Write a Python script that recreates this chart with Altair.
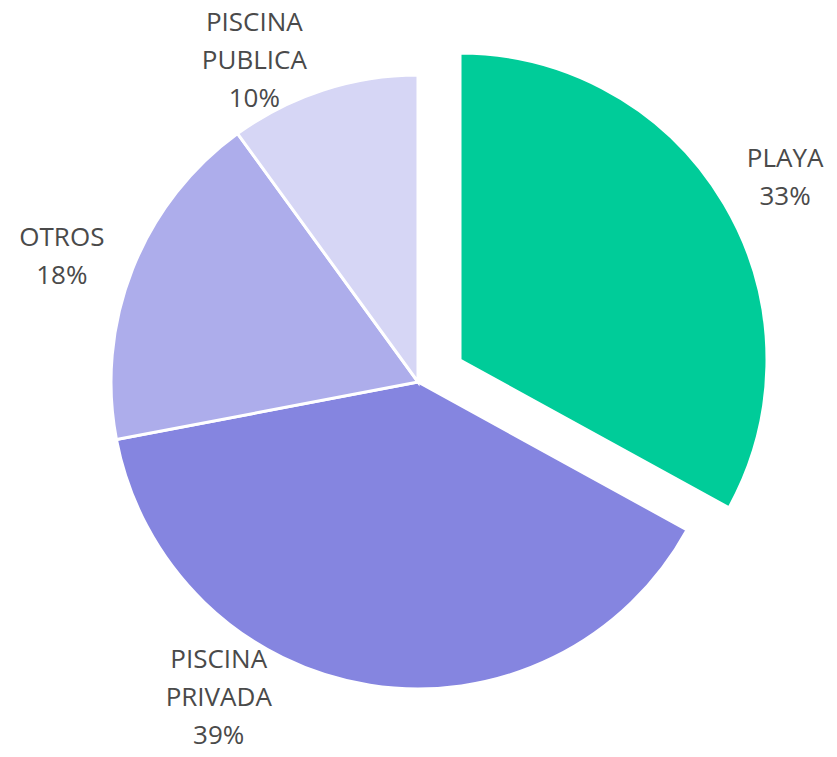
import altair as alt
import pandas as pd

# ---- data ----
categories = ["PLAYA", "PISCINA PRIVADA", "OTROS", "PISCINA PUBLICA"]
values = [33, 39, 18, 10]
label_texts = ["PLAYA\n33%", "PISCINA\nPRIVADA\n39%", "OTROS\n18%", "PISCINA\nPUBLICA\n10%"]
colors = ["#00CC99", "#8585E0", "#ADADEB", "#D6D6F5"]
exploded = "PLAYA"

# ---- label layout (first-line anchor: angle as % of the circle, radius in px) ----
label_theta = [16.2, 59.9, 81.1, 93.2]
label_radius = [382, 342, 384, 395]

df = pd.DataFrame({
    "cat": categories,
    "val": values,
    "order": list(range(len(categories))),
    "label": label_texts,
    "lt": label_theta,
    "lr": label_radius,
})

theta_scale = alt.Scale(domain=[0, 100], range=[0, 6.283185307])
color_enc = alt.Color("cat:N", scale=alt.Scale(domain=categories, range=colors), legend=None)

base = alt.Chart(df).transform_stack(
    stack="val", as_=["start", "end"], groupby=[], sort=[alt.SortField("order")]
)

CX, CY = 418, 382
EX, EY = 460, 360
R = 307

arcs_main = base.transform_filter(alt.datum.cat != exploded).mark_arc(
    radius=R, stroke="white", strokeWidth=3
).encode(
    theta=alt.Theta("start:Q", scale=theta_scale),
    theta2="end:Q",
    color=color_enc,
    x=alt.value(CX), y=alt.value(CY),
)

arcs_exp = base.transform_filter(alt.datum.cat == exploded).mark_arc(
    radius=R, stroke="white", strokeWidth=3
).encode(
    theta=alt.Theta("start:Q", scale=theta_scale),
    theta2="end:Q",
    color=color_enc,
    x=alt.value(EX), y=alt.value(EY),
)

text_props = dict(font="Open Sans", fontSize=26, color="#4a4a4a", lineBreak="\n",
                  lineHeight=38, align="center", baseline="middle")

labels_main = alt.Chart(df).transform_filter(alt.datum.cat != exploded).mark_text(**text_props).encode(
    theta=alt.Theta("lt:Q", scale=theta_scale),
    radius=alt.Radius("lr:Q", scale=None),
    text="label:N",
    x=alt.value(CX), y=alt.value(CY),
)

labels_exp = alt.Chart(df).transform_filter(alt.datum.cat == exploded).mark_text(**text_props).encode(
    theta=alt.Theta("lt:Q", scale=theta_scale),
    radius=alt.Radius("lr:Q", scale=None),
    text="label:N",
    x=alt.value(EX), y=alt.value(EY),
)

chart = alt.layer(arcs_main, arcs_exp, labels_main, labels_exp).properties(
    width=837, height=757, padding=0,
    autosize=alt.AutoSizeParams(type="none"),
    background="white",
).configure_view(stroke=None)

chart.save("out.html", embed_options={"renderer": "svg", "actions": False})
